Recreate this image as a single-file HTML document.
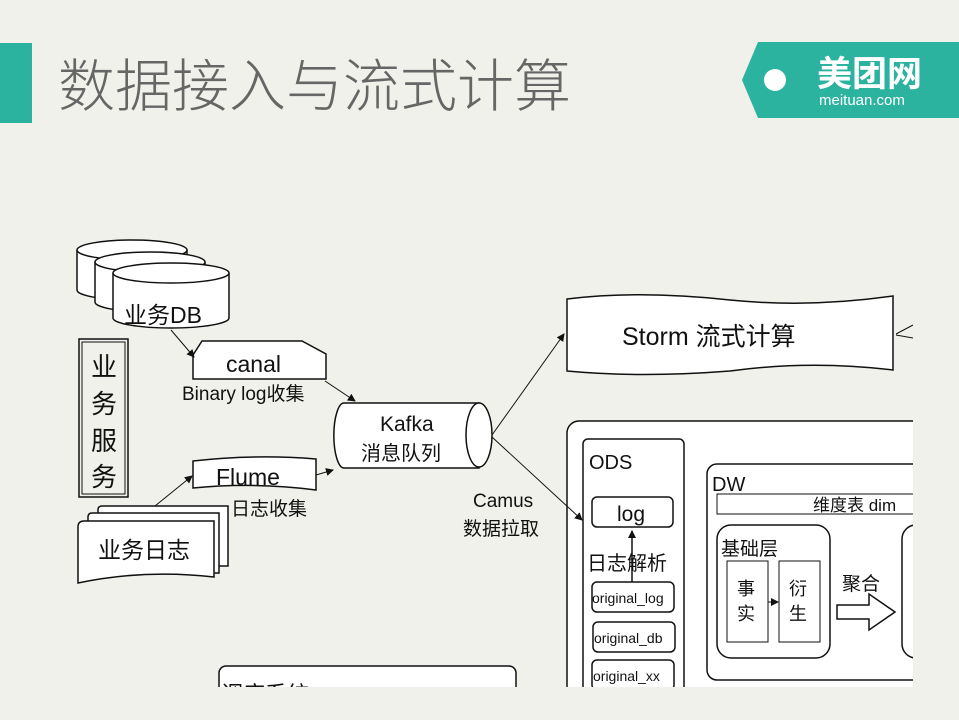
<!DOCTYPE html>
<html><head><meta charset="utf-8"><style>
body{margin:0;width:959px;height:720px;background:#f1f1ec;overflow:hidden;font-family:"Liberation Sans","Noto Sans CJK SC",sans-serif}
svg{position:absolute;left:0;top:0}
</style></head><body>
<svg width="959" height="720" viewBox="0 0 959 720" font-family="Liberation Sans, Noto Sans CJK SC, sans-serif">
<defs>
<marker id="a" markerWidth="8" markerHeight="8" refX="7" refY="4" orient="auto" markerUnits="userSpaceOnUse"><path d="M0,0 L8,4 L0,8 z" fill="#111"/></marker>
<clipPath id="c"><rect x="0" y="0" width="913" height="687"/></clipPath>
</defs>
<rect x="0" y="43" width="32" height="80" fill="#2bb3a0"/>
<text x="58" y="106" font-size="57" fill="#666" font-family="Noto Sans CJK SC, sans-serif" font-weight="300">数据接入与流式计算</text>
<path d="M758,42 L959,42 L959,118 L758,118 L742,80 Z" fill="#2bb3a0"/>
<circle cx="775" cy="80" r="11" fill="#fff"/>
<text x="817" y="86" font-size="35" fill="#fff" font-family="Noto Sans CJK SC, sans-serif" font-weight="bold">美团网</text>
<text x="819" y="105" font-size="15" fill="#fff">meituan.com</text>
<g clip-path="url(#c)" stroke="#111" stroke-width="1.5" fill="#fff">
<path d="M77,250 v40 a55,10 0 0 0 110,0 v-40" /><ellipse cx="132" cy="250" rx="55" ry="10"/>
<path d="M95,262 v40 a55,10 0 0 0 110,0 v-40" /><ellipse cx="150" cy="262" rx="55" ry="10"/>
<path d="M113,273 v45 a58,10 0 0 0 116,0 v-45" /><ellipse cx="171" cy="273" rx="58" ry="10"/>
<rect x="79" y="339" width="49" height="158" fill="none"/><rect x="82" y="342" width="43" height="152" fill="none" stroke-width="1"/>
<path d="M193,355 L202,341 L302,341 L326,354 L326,379 L193,379 Z"/>
<path d="M193,461 Q255,454 316,459 L316,490 Q255,482 193,488 Z"/>
<path d="M98,510 q0,-4 4,-4 h126 v60 h-130 z"/>
<path d="M88,517 q0,-4 4,-4 h127 v60 h-131 z"/>
<path d="M78,527 q0,-6 6,-6 h130 v56 q-70,-8 -136,6 z"/>
<path d="M344,403 h135 v65 h-135 a10,32 0 0 1 0,-65 z"/>
<ellipse cx="479" cy="435" rx="13" ry="32"/>
<path d="M567,299 Q640,290 730,300 Q810,308 893,296 L893,370 Q810,360 730,371 Q640,378 567,371 Z"/>
<line x1="913" y1="325" x2="896" y2="334" fill="none" stroke-width="1"/>
<line x1="913" y1="338" x2="896" y2="335" fill="none" stroke-width="1"/>
<rect x="567" y="421" width="400" height="300" rx="12"/>
<rect x="583" y="439" width="101" height="280" rx="5"/>
<rect x="592" y="497" width="81" height="30" rx="5"/>
<rect x="592" y="582" width="82" height="30" rx="5"/>
<rect x="593" y="622" width="82" height="30" rx="5"/>
<rect x="592" y="660" width="82" height="30" rx="5"/>
<line x1="632" y1="582" x2="632" y2="531" marker-end="url(#a)"/>
<rect x="707" y="464" width="260" height="216" rx="10"/>
<rect x="717" y="494" width="260" height="20" stroke-width="1"/>
<rect x="717" y="525" width="113" height="133" rx="14"/>
<rect x="727" y="561" width="41" height="81" stroke-width="1"/>
<rect x="779" y="561" width="41" height="81" stroke-width="1"/>
<line x1="768" y1="602" x2="778" y2="602" marker-end="url(#a)" stroke-width="1"/>
<path d="M837,605 h32 v-11 l26,18 l-26,18 v-11 h-32 z"/>
<rect x="902" y="525" width="60" height="133" rx="14"/>
<rect x="219" y="666" width="297" height="60" rx="7"/>
<g fill="none" stroke-width="1">
<line x1="171" y1="330" x2="194" y2="357" marker-end="url(#a)"/>
<line x1="325" y1="381" x2="355" y2="401" marker-end="url(#a)"/>
<line x1="316" y1="475" x2="333" y2="470" marker-end="url(#a)"/>
<line x1="155" y1="506" x2="192" y2="476" marker-end="url(#a)"/>
<line x1="492" y1="435" x2="564" y2="334" marker-end="url(#a)"/>
<line x1="492" y1="437" x2="582" y2="520" marker-end="url(#a)"/>
</g>
</g>
<g font-size="22" fill="#111">
<text x="124" y="323" font-size="23">业务DB</text>
<text x="226" y="372" font-size="23">canal</text>
<text x="182" y="400" font-size="19">Binary log收集</text>
<text x="216" y="485" font-size="23">Flume</text>
<text x="231" y="515" font-size="19">日志收集</text>
<text x="98" y="558" font-size="23">业务日志</text>
<g font-size="26"><text x="91" y="376">业</text><text x="91" y="413">务</text><text x="91" y="450">服</text><text x="91" y="486">务</text></g>
<text x="380" y="431" font-size="21">Kafka</text>
<text x="361" y="460" font-size="20">消息队列</text>
<text x="473" y="507" font-size="19">Camus</text>
<text x="463" y="535" font-size="19">数据拉取</text>
<text x="622" y="345" font-size="25">Storm 流式计算</text>
<text x="589" y="469" font-size="20">ODS</text>
<text x="617" y="521" font-size="21">log</text>
<text x="587" y="570" font-size="20">日志解析</text>
<text x="592" y="603" font-size="14">original_log</text>
<text x="594" y="643" font-size="14">original_db</text>
<text x="593" y="681" font-size="14">original_xx</text>
<text x="712" y="491" font-size="20">DW</text>
<text x="813" y="511" font-size="17">维度表 dim</text>
<text x="721" y="555" font-size="19">基础层</text>
<text x="737" y="595" font-size="18">事</text><text x="737" y="620" font-size="18">实</text>
<text x="789" y="595" font-size="18">衍</text><text x="789" y="620" font-size="18">生</text>
<text x="842" y="590" font-size="19">聚合</text>
</g>
<rect x="0" y="687" width="959" height="33" fill="#f1f1ec"/>
<rect x="913" y="140" width="46" height="580" fill="#f1f1ec"/>
<text x="221" y="702" font-size="22" fill="#111" clip-path="url(#c)">调度系统</text>
</svg>
</body></html>
